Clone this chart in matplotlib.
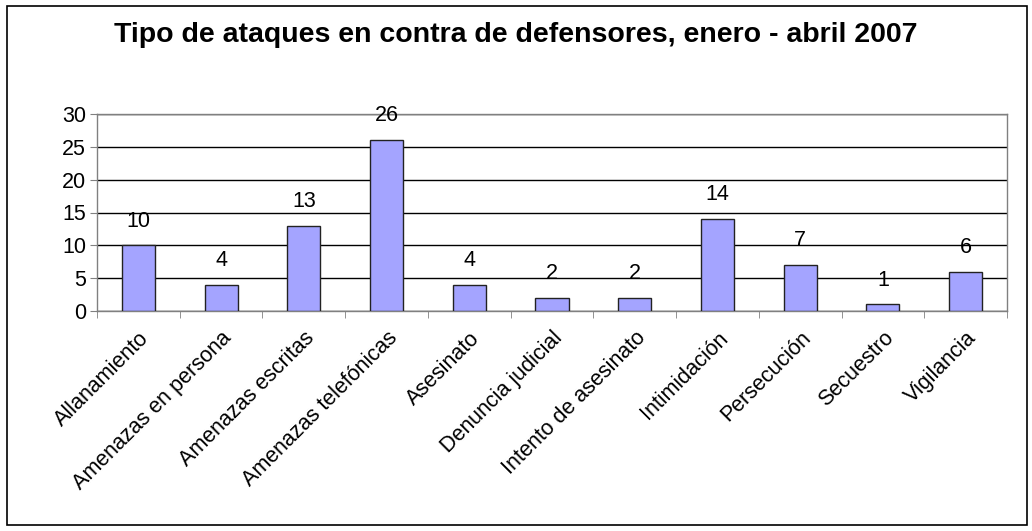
import matplotlib.pyplot as plt
import numpy as np
from matplotlib.patches import Rectangle

categorias = ['Allanamiento', 'Amenazas en persona', 'Amenazas escritas',
              'Amenazas telefónicas', 'Asesinato', 'Denuncia judicial',
              'Intento de asesinato', 'Intimidación', 'Persecución',
              'Secuestro', 'Vigilancia']
valores = [10, 4, 13, 26, 4, 2, 2, 14, 7, 1, 6]
ticks_y = [0, 5, 10, 15, 20, 25, 30]
titulo = 'Tipo de ataques en contra de defensores, enero - abril 2007'

plt.rcParams['font.family'] = ['Liberation Sans', 'DejaVu Sans']

W, H = 1032, 531
fig = plt.figure(figsize=(W / 100, H / 100), dpi=100)

# marco exterior del grafico
fig.patches.append(Rectangle((7 / W, 1 - 525 / H), 1020 / W, 519 / H,
                             transform=fig.transFigure, fill=False,
                             edgecolor='black', linewidth=1.2))

ax = fig.add_axes([97 / W, 1 - 311 / H, 910 / W, 197 / H])
x = np.arange(len(categorias))
ax.bar(x, valores, width=0.4, color='#a4a4ff', edgecolor='#222222',
       linewidth=1, zorder=3)

for xi, v in zip(x, valores):
    ax.text(xi, v + 3.7, str(v), ha='center', va='center', fontsize=15.5)

ax.set_xlim(-0.5, len(categorias) - 0.5)
ax.set_ylim(0, 30)
ax.set_yticks(ticks_y)
ax.yaxis.grid(True, color='black', linewidth=1, zorder=0)
ax.tick_params(axis='y', labelsize=15.5, length=5, color='#808080', pad=3)

ax.set_xticks(x)
ax.set_xticklabels(categorias, rotation=45, ha='right', rotation_mode='anchor',
                   fontsize=15.5)
ax.tick_params(axis='x', length=0, pad=12)
ax.set_xticks(np.arange(len(categorias) + 1) - 0.5, minor=True)
ax.tick_params(axis='x', which='minor', length=5, color='#808080')

for s in ax.spines.values():
    s.set_color('#808080')
    s.set_linewidth(1)

fig.text(0.5, 1 - 35 / H, titulo, ha='center', va='center', fontsize=20.5,
         fontweight='bold')

fig.savefig('out.png', dpi=100)
